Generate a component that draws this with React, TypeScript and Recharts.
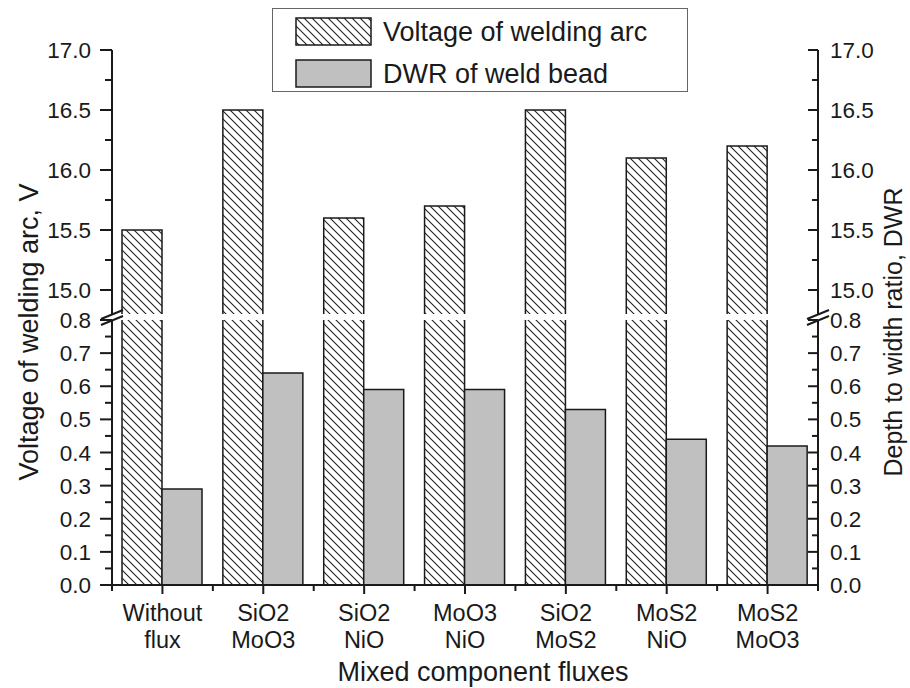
import { BarChart, Bar, XAxis, YAxis, Legend } from "recharts";

// categories on the x axis (two lines each)
const categories = [
  "Without\nflux",
  "SiO2\nMoO3",
  "SiO2\nNiO",
  "MoO3\nNiO",
  "SiO2\nMoS2",
  "MoS2\nNiO",
  "MoS2\nMoO3",
];
const arcVoltage = [15.5, 16.5, 15.6, 15.7, 16.5, 16.1, 16.2];
const dwr = [0.29, 0.64, 0.59, 0.59, 0.53, 0.44, 0.42];

const voltageTicks = [15.0, 15.5, 16.0, 16.5, 17.0];
const dwrTicks = [0.0, 0.1, 0.2, 0.3, 0.4, 0.5, 0.6, 0.7, 0.8];

const voltageDomain = [14.8, 17.0];
const dwrDomain = [0.0, 0.8];

const seriesNames = ["Voltage of welding arc", "DWR of weld bead"];

const data = categories.map((c, i) => ({
  category: c,
  voltage: arcVoltage[i],
  dwr: dwr[i],
}));

// layout
const W = 910;
const H = 688;
const PLOT_LEFT = 112;
const PLOT_RIGHT = 818;
const TOP_Y0 = 50;
const TOP_Y1 = 314;
const BOT_Y0 = 320;
const BOT_Y1 = 585;
const BAND = (PLOT_RIGHT - PLOT_LEFT) / categories.length;
const FONT = '"Liberation Sans", Arial, Helvetica, sans-serif';
const INK = "#1a1a1a";
const GREY = "#c0c0c0";

const withMinor = (majors: number[]) => {
  const out: number[] = [];
  majors.forEach((m, i) => {
    out.push(m);
    if (i < majors.length - 1) out.push((m + majors[i + 1]) / 2);
  });
  return out;
};

const makeYTick =
  (side: "left" | "right", majors: number[]) => (props: any) => {
    const { x, y, payload } = props;
    const v = payload.value as number;
    const major = majors.some((m) => Math.abs(m - v) < 1e-6);
    if (side === "left") {
      const len = major ? 12 : 7;
      return (
        <g>
          <line x1={x - len} y1={y} x2={x} y2={y} stroke={INK} strokeWidth={2} />
          {major && (
            <text x={x - 21} y={y} dy="0.36em" textAnchor="end" fontSize={22.5} fill={INK} fontFamily={FONT}>
              {v.toFixed(1)}
            </text>
          )}
        </g>
      );
    }
    const len = major ? 10 : 6;
    return (
      <g>
        <line x1={x - len} y1={y} x2={x} y2={y} stroke={INK} strokeWidth={2} />
        {major && (
          <text x={x + 12} y={y} dy="0.36em" textAnchor="start" fontSize={22.5} fill={INK} fontFamily={FONT}>
            {v.toFixed(1)}
          </text>
        )}
      </g>
    );
  };

const CategoryTick = (props: any) => {
  const { x, y, payload, index } = props;
  const lines = String(payload.value).split("\n");
  const last = index === categories.length - 1;
  return (
    <g>
      <line x1={x} y1={y} x2={x} y2={y + 9} stroke={INK} strokeWidth={2} />
      <line x1={x - BAND / 2} y1={y} x2={x - BAND / 2} y2={y + 6} stroke={INK} strokeWidth={2} />
      {last && (
        <line x1={x + BAND / 2} y1={y} x2={x + BAND / 2} y2={y + 6} stroke={INK} strokeWidth={2} />
      )}
      {lines.map((l, i) => (
        <text key={i} x={x} y={y + 36 + i * 27} textAnchor="middle" fontSize={23.5} fill={INK} fontFamily={FONT}>
          {l}
        </text>
      ))}
    </g>
  );
};

// hatched bar without bottom edge (the upper part sits on the axis break)
const HatchBar = (props: any) => {
  const { x, y, width, height } = props;
  if (height == null || width == null) return null;
  return (
    <g>
      <rect x={x} y={y} width={width} height={height} fill="url(#hatch)" />
      <path
        d={`M${x},${y + height} L${x},${y} L${x + width},${y} L${x + width},${y + height}`}
        fill="none"
        stroke={INK}
        strokeWidth={1.5}
      />
    </g>
  );
};

const LegendBox = () => (
  <div
    style={{
      width: 416,
      height: 84,
      boxSizing: "border-box",
      border: "1.5px solid #666",
      background: "#fff",
      position: "relative",
      fontFamily: FONT,
      fontSize: 27,
      color: INK,
    }}
  >
    {seriesNames.map((name, i) => (
      <div
        key={name}
        style={{ position: "absolute", left: 22, top: i === 0 ? 9 : 51, height: 28, display: "flex", alignItems: "center" }}
      >
        <svg width={78} height={30} style={{ display: "block" }}>
          <rect
            x={1}
            y={1}
            width={75}
            height={27}
            fill={i === 0 ? "url(#hatch)" : GREY}
            stroke={INK}
            strokeWidth={1.5}
          />
        </svg>
        <span style={{ marginLeft: 10, lineHeight: "28px", whiteSpace: "nowrap" }}>{name}</span>
      </div>
    ))}
  </div>
);

export default function App() {
  return (
    <div style={{ position: "absolute", left: 0, top: 0, width: W, height: H, background: "#fff" }}>
      <svg width={0} height={0} style={{ position: "absolute" }}>
        <defs>
          <pattern id="hatch" patternUnits="userSpaceOnUse" width={8} height={8}>
            <rect width={8} height={8} fill="#fff" />
            <path d="M-2,-2 L10,10 M-2,6 L2,10 M6,-2 L10,2" stroke="#222" strokeWidth={1.1} />
          </pattern>
        </defs>
      </svg>

      {/* upper segment: arc voltage 14.8 - 17.0 */}
      <div style={{ position: "absolute", left: 0, top: 0 }}>
        <BarChart
          width={W}
          height={H}
          data={data}
          margin={{ top: TOP_Y0, bottom: H - TOP_Y1, left: PLOT_LEFT - 40, right: W - PLOT_RIGHT - 40 }}
          barSize={40}
          barGap={0}
        >
          <XAxis dataKey="category" hide />
          <YAxis
            yAxisId="l"
            orientation="left"
            width={40}
            type="number"
            domain={voltageDomain}
            allowDataOverflow
            ticks={withMinor(voltageTicks)}
            interval={0}
            tickSize={0}
            tickMargin={0}
            tickLine={false}
            axisLine={{ stroke: INK, strokeWidth: 2 }}
            tick={makeYTick("left", voltageTicks)}
          />
          <YAxis
            yAxisId="r"
            orientation="right"
            width={40}
            type="number"
            domain={voltageDomain}
            allowDataOverflow
            ticks={withMinor(voltageTicks)}
            interval={0}
            tickSize={0}
            tickMargin={0}
            tickLine={false}
            axisLine={{ stroke: INK, strokeWidth: 2 }}
            tick={makeYTick("right", voltageTicks)}
          />
          <Bar yAxisId="l" dataKey="voltage" shape={HatchBar} isAnimationActive={false} />
          <Bar yAxisId="l" dataKey="none" fill={GREY} isAnimationActive={false} />
          <Legend
            layout="horizontal"
            verticalAlign="middle"
            align="center"
            wrapperStyle={{ left: 272, top: 8, width: 416, height: 84 }}
            content={() => <LegendBox />}
          />
        </BarChart>
      </div>

      {/* lower segment: 0.0 - 0.8 */}
      <div style={{ position: "absolute", left: 0, top: 0 }}>
        <BarChart
          width={W}
          height={H}
          data={data}
          margin={{ top: BOT_Y0, bottom: H - BOT_Y1 - 97, left: PLOT_LEFT - 40, right: W - PLOT_RIGHT - 40 }}
          barSize={40}
          barGap={0}
        >
          <XAxis
            dataKey="category"
            height={97}
            interval={0}
            tickSize={0}
            tickMargin={0}
            tickLine={false}
            axisLine={{ stroke: INK, strokeWidth: 2 }}
            tick={CategoryTick}
          />
          <YAxis
            yAxisId="l"
            orientation="left"
            width={40}
            type="number"
            domain={dwrDomain}
            allowDataOverflow
            ticks={withMinor(dwrTicks)}
            interval={0}
            tickSize={0}
            tickMargin={0}
            tickLine={false}
            axisLine={{ stroke: INK, strokeWidth: 2 }}
            tick={makeYTick("left", dwrTicks)}
          />
          <YAxis
            yAxisId="r"
            orientation="right"
            width={40}
            type="number"
            domain={dwrDomain}
            allowDataOverflow
            ticks={withMinor(dwrTicks)}
            interval={0}
            tickSize={0}
            tickMargin={0}
            tickLine={false}
            axisLine={{ stroke: INK, strokeWidth: 2 }}
            tick={makeYTick("right", dwrTicks)}
          />
          <Bar yAxisId="l" dataKey="voltage" shape={HatchBar} isAnimationActive={false} />
          <Bar yAxisId="r" dataKey="dwr" fill={GREY} stroke={INK} strokeWidth={1.5} isAnimationActive={false} />
        </BarChart>
      </div>

      {/* axis titles and break marks */}
      <svg width={W} height={H} style={{ position: "absolute", left: 0, top: 0, pointerEvents: "none" }}>
        <text
          x={29}
          y={332}
          transform="rotate(-90 29 332)"
          textAnchor="middle"
          dominantBaseline="central"
          fontSize={27}
          fill={INK}
          fontFamily={FONT}
        >
          Voltage of welding arc, V
        </text>
        <text
          x={893}
          y={332}
          transform="rotate(-90 893 332)"
          textAnchor="middle"
          dominantBaseline="central"
          fontSize={25}
          fill={INK}
          fontFamily={FONT}
        >
          Depth to width ratio, DWR
        </text>
        <text x={483} y={681} textAnchor="middle" fontSize={27} fill={INK} fontFamily={FONT}>
          Mixed component fluxes
        </text>
        {[PLOT_LEFT, PLOT_RIGHT].map((ax) => (
          <g key={ax}>
            <line x1={ax - 11} y1={319} x2={ax + 11} y2={310} stroke={INK} strokeWidth={2} />
            <line x1={ax - 11} y1={325} x2={ax + 11} y2={316} stroke={INK} strokeWidth={2} />
          </g>
        ))}
      </svg>
    </div>
  );
}
